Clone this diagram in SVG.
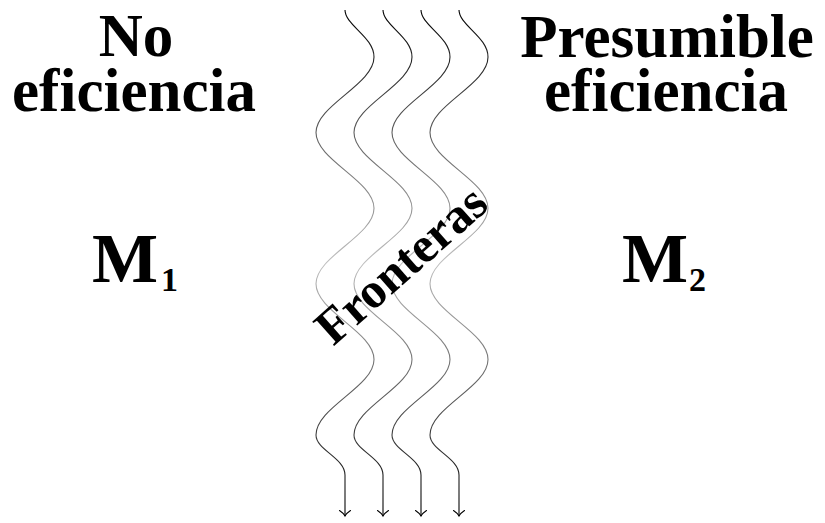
<svg xmlns="http://www.w3.org/2000/svg" width="825" height="523" viewBox="0 0 825 523">
  <style>
    .lbl { font-family: "Liberation Serif", "Times New Roman", serif; font-weight: bold; fill: #000; }
    .big { font-size: 61px; }
    .m { font-size: 70px; }
    .sub { font-size: 34px; }
    .wave { fill: none; stroke: url(#waveShade); stroke-width: 1.1; marker-end: url(#toTip); }
  </style>
  <defs>
    <!-- dark at both ends, fading to light grey in the middle -->
    <linearGradient id="waveShade" gradientUnits="userSpaceOnUse" x1="0" y1="10" x2="0" y2="516">
      <stop offset="0" stop-color="#000"/>
      <stop offset="0.5" stop-color="#c0c0c0"/>
      <stop offset="1" stop-color="#000"/>
    </linearGradient>
    <marker id="toTip" markerUnits="userSpaceOnUse" markerWidth="14" markerHeight="16" refX="0" refY="0" viewBox="-7 -8 14 16" orient="auto" overflow="visible">
      <path d="M-5.5,-5.5 C-3.5,-2.5 -1.2,-0.6 0,0 C-1.2,0.6 -3.5,2.5 -5.5,5.5" fill="none" stroke="#000" stroke-width="1.1" stroke-linecap="round"/>
    </marker>
  </defs>

  <!-- wavy frontier lines -->
  <g id="connectors">
    <path class="wave" d="M345,10 c0,15 29,27 29,47 c0,27.5 -58,48.1 -58,75.6 c0,27.5 58,48.1 58,75.6 c0,27.5 -58,48.1 -58,75.6 c0,27.5 58,48.1 58,75.6 c0,27.5 -58,48.1 -58,75.6 c0,15 29,23 29,40 v41"/>
    <path class="wave" d="M383,10 c0,15 29,27 29,47 c0,27.5 -58,48.1 -58,75.6 c0,27.5 58,48.1 58,75.6 c0,27.5 -58,48.1 -58,75.6 c0,27.5 58,48.1 58,75.6 c0,27.5 -58,48.1 -58,75.6 c0,15 29,23 29,40 v41"/>
    <path class="wave" d="M421,10 c0,15 29,27 29,47 c0,27.5 -58,48.1 -58,75.6 c0,27.5 58,48.1 58,75.6 c0,27.5 -58,48.1 -58,75.6 c0,27.5 58,48.1 58,75.6 c0,27.5 -58,48.1 -58,75.6 c0,15 29,23 29,40 v41"/>
    <path class="wave" d="M459,10 c0,15 29,27 29,47 c0,27.5 -58,48.1 -58,75.6 c0,27.5 58,48.1 58,75.6 c0,27.5 -58,48.1 -58,75.6 c0,27.5 58,48.1 58,75.6 c0,27.5 -58,48.1 -58,75.6 c0,15 29,23 29,40 v41"/>
  </g>

  <g id="no-eficiencia">
    <text class="lbl big" x="136" y="56" text-anchor="middle">No</text>
    <text class="lbl big" x="134" y="111" text-anchor="middle">eficiencia</text>
  </g>

  <g id="presumible-eficiencia">
    <text class="lbl big" x="667" y="57" text-anchor="middle">Presumible</text>
    <text class="lbl big" x="666" y="111" text-anchor="middle">eficiencia</text>
  </g>

  <g id="m1">
    <text class="lbl m" x="92" y="282">M</text>
    <text class="lbl sub" x="161" y="291">1</text>
  </g>

  <g id="m2">
    <text class="lbl m" x="622" y="282">M</text>
    <text class="lbl sub" x="689" y="291">2</text>
  </g>

  <g id="fronteras">
    <text class="lbl" font-size="50" x="412" y="277" text-anchor="middle" transform="rotate(-41.5 412 277)">Fronteras</text>
  </g>
</svg>
